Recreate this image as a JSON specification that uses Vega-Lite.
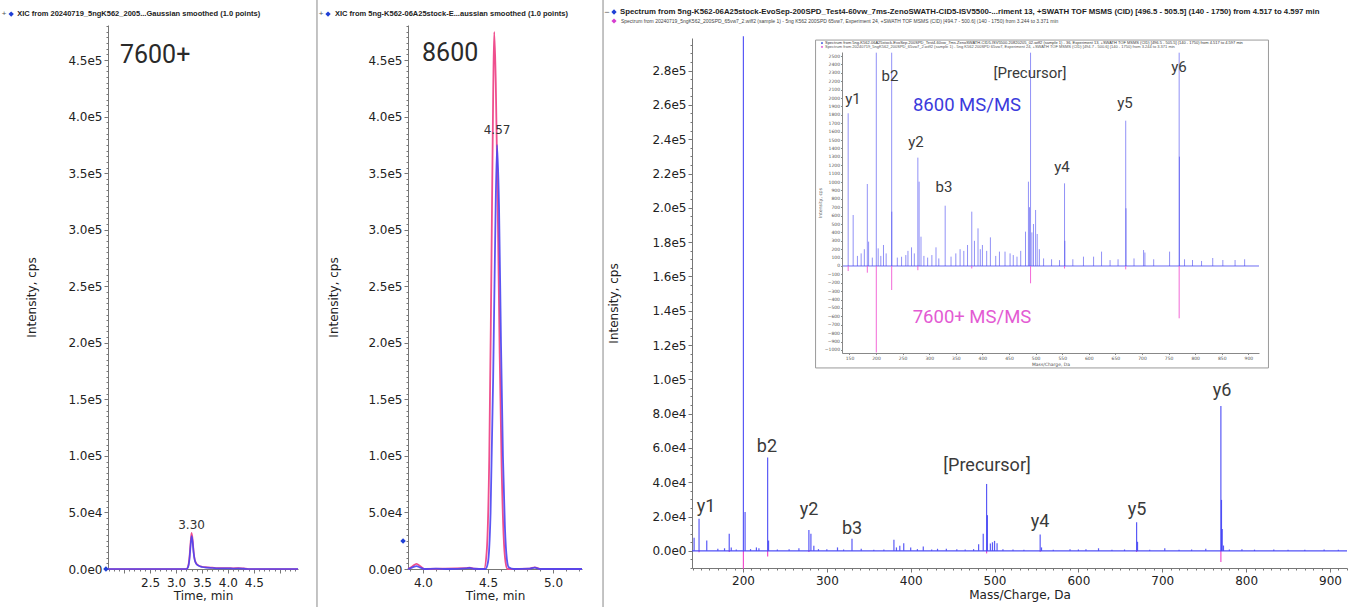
{
  "$schema": "https://vega.github.io/schema/vega-lite/v6.json",
  "width": 1371,
  "height": 607,
  "padding": 0,
  "autosize": {"type": "none"},
  "background": "white",
  "config": {
    "view": {"stroke": null},
    "axis": {
      "grid": false,
      "domainColor": "#777",
      "tickColor": "#777",
      "labelColor": "#222",
      "labelFont": "DejaVu Sans",
      "labelFontSize": 12,
      "titleFont": "DejaVu Sans",
      "titleFontSize": 12,
      "titleFontWeight": "normal",
      "titleColor": "#222",
      "labelPadding": 2,
      "labelOverlap": false,
      "labelFlush": false
    }
  },
  "datasets": {
    "xic7600": [
      {"time": 1.69, "trace": "XIC 1", "intensity": 0},
      {"time": 3.2, "trace": "XIC 1", "intensity": 0},
      {"time": 3.23, "trace": "XIC 1", "intensity": 1500},
      {"time": 3.26, "trace": "XIC 1", "intensity": 9000},
      {"time": 3.28, "trace": "XIC 1", "intensity": 20000},
      {"time": 3.3, "trace": "XIC 1", "intensity": 29000},
      {"time": 3.32, "trace": "XIC 1", "intensity": 24000},
      {"time": 3.34, "trace": "XIC 1", "intensity": 14000},
      {"time": 3.36, "trace": "XIC 1", "intensity": 8000},
      {"time": 3.39, "trace": "XIC 1", "intensity": 4500},
      {"time": 3.43, "trace": "XIC 1", "intensity": 3000},
      {"time": 3.5, "trace": "XIC 1", "intensity": 1800},
      {"time": 3.6, "trace": "XIC 1", "intensity": 1200},
      {"time": 3.7, "trace": "XIC 1", "intensity": 900},
      {"time": 3.8, "trace": "XIC 1", "intensity": 600},
      {"time": 3.9, "trace": "XIC 1", "intensity": 500},
      {"time": 4.0, "trace": "XIC 1", "intensity": 600},
      {"time": 4.1, "trace": "XIC 1", "intensity": 400},
      {"time": 4.2, "trace": "XIC 1", "intensity": 500},
      {"time": 4.3, "trace": "XIC 1", "intensity": 300},
      {"time": 4.4, "trace": "XIC 1", "intensity": 0},
      {"time": 5.35, "trace": "XIC 1", "intensity": 0},
      {"time": 1.69, "trace": "XIC 2", "intensity": 0},
      {"time": 3.2, "trace": "XIC 2", "intensity": 0},
      {"time": 3.23, "trace": "XIC 2", "intensity": 1800},
      {"time": 3.26, "trace": "XIC 2", "intensity": 11000},
      {"time": 3.28, "trace": "XIC 2", "intensity": 23000},
      {"time": 3.3, "trace": "XIC 2", "intensity": 32000},
      {"time": 3.32, "trace": "XIC 2", "intensity": 26000},
      {"time": 3.34, "trace": "XIC 2", "intensity": 15000},
      {"time": 3.36, "trace": "XIC 2", "intensity": 8500},
      {"time": 3.39, "trace": "XIC 2", "intensity": 5000},
      {"time": 3.43, "trace": "XIC 2", "intensity": 3200},
      {"time": 3.5, "trace": "XIC 2", "intensity": 2000},
      {"time": 3.6, "trace": "XIC 2", "intensity": 1500},
      {"time": 3.7, "trace": "XIC 2", "intensity": 1200},
      {"time": 3.8, "trace": "XIC 2", "intensity": 900},
      {"time": 3.9, "trace": "XIC 2", "intensity": 700},
      {"time": 4.0, "trace": "XIC 2", "intensity": 900},
      {"time": 4.1, "trace": "XIC 2", "intensity": 600},
      {"time": 4.2, "trace": "XIC 2", "intensity": 800},
      {"time": 4.3, "trace": "XIC 2", "intensity": 500},
      {"time": 4.4, "trace": "XIC 2", "intensity": 0},
      {"time": 5.35, "trace": "XIC 2", "intensity": 0}
    ],
    "xic8600": [
      {"time": 3.885, "trace": "XIC 1", "intensity": 0},
      {"time": 3.92, "trace": "XIC 1", "intensity": 1500},
      {"time": 3.95, "trace": "XIC 1", "intensity": 2500},
      {"time": 3.98, "trace": "XIC 1", "intensity": 1200},
      {"time": 4.01, "trace": "XIC 1", "intensity": 0},
      {"time": 4.1, "trace": "XIC 1", "intensity": 300},
      {"time": 4.2, "trace": "XIC 1", "intensity": 0},
      {"time": 4.33, "trace": "XIC 1", "intensity": 500},
      {"time": 4.36, "trace": "XIC 1", "intensity": 900},
      {"time": 4.39, "trace": "XIC 1", "intensity": 200},
      {"time": 4.48, "trace": "XIC 1", "intensity": 0},
      {"time": 4.5, "trace": "XIC 1", "intensity": 6000},
      {"time": 4.52, "trace": "XIC 1", "intensity": 50000},
      {"time": 4.54, "trace": "XIC 1", "intensity": 170000},
      {"time": 4.555, "trace": "XIC 1", "intensity": 290000},
      {"time": 4.57, "trace": "XIC 1", "intensity": 375000},
      {"time": 4.585, "trace": "XIC 1", "intensity": 320000},
      {"time": 4.6, "trace": "XIC 1", "intensity": 200000},
      {"time": 4.615, "trace": "XIC 1", "intensity": 100000},
      {"time": 4.63, "trace": "XIC 1", "intensity": 38000},
      {"time": 4.645, "trace": "XIC 1", "intensity": 9000},
      {"time": 4.66, "trace": "XIC 1", "intensity": 1500},
      {"time": 4.7, "trace": "XIC 1", "intensity": 0},
      {"time": 4.82, "trace": "XIC 1", "intensity": 300},
      {"time": 4.86, "trace": "XIC 1", "intensity": 1200},
      {"time": 4.9, "trace": "XIC 1", "intensity": 0},
      {"time": 5.223, "trace": "XIC 1", "intensity": 0},
      {"time": 3.885, "trace": "XIC 2", "intensity": 0},
      {"time": 3.92, "trace": "XIC 2", "intensity": 2500},
      {"time": 3.95, "trace": "XIC 2", "intensity": 4500},
      {"time": 3.98, "trace": "XIC 2", "intensity": 2500},
      {"time": 4.01, "trace": "XIC 2", "intensity": 0},
      {"time": 4.33, "trace": "XIC 2", "intensity": 700},
      {"time": 4.36, "trace": "XIC 2", "intensity": 1200},
      {"time": 4.39, "trace": "XIC 2", "intensity": 300},
      {"time": 4.47, "trace": "XIC 2", "intensity": 0},
      {"time": 4.49, "trace": "XIC 2", "intensity": 15000},
      {"time": 4.51, "trace": "XIC 2", "intensity": 100000},
      {"time": 4.525, "trace": "XIC 2", "intensity": 250000},
      {"time": 4.54, "trace": "XIC 2", "intensity": 420000},
      {"time": 4.548, "trace": "XIC 2", "intensity": 475000},
      {"time": 4.56, "trace": "XIC 2", "intensity": 430000},
      {"time": 4.575, "trace": "XIC 2", "intensity": 320000},
      {"time": 4.59, "trace": "XIC 2", "intensity": 190000},
      {"time": 4.605, "trace": "XIC 2", "intensity": 90000},
      {"time": 4.62, "trace": "XIC 2", "intensity": 30000},
      {"time": 4.635, "trace": "XIC 2", "intensity": 6000},
      {"time": 4.65, "trace": "XIC 2", "intensity": 0},
      {"time": 4.82, "trace": "XIC 2", "intensity": 400},
      {"time": 4.86, "trace": "XIC 2", "intensity": 1500},
      {"time": 4.9, "trace": "XIC 2", "intensity": 0},
      {"time": 5.223, "trace": "XIC 2", "intensity": 0}
    ],
    "spec8600": [
      {"mz": 141.7, "intensity": 7600}, {"mz": 147.6, "intensity": 18700}, {"mz": 156.8, "intensity": 6000},
      {"mz": 170, "intensity": 1200}, {"mz": 178, "intensity": 1500}, {"mz": 183.6, "intensity": 9900},
      {"mz": 186, "intensity": 2000}, {"mz": 192, "intensity": 800}, {"mz": 200.5, "intensity": 300000},
      {"mz": 202.5, "intensity": 22700}, {"mz": 209, "intensity": 1000}, {"mz": 216, "intensity": 2000},
      {"mz": 219, "intensity": 1500}, {"mz": 229.4, "intensity": 54400}, {"mz": 230.5, "intensity": 6000},
      {"mz": 241, "intensity": 800}, {"mz": 255, "intensity": 900}, {"mz": 266.7, "intensity": 1500},
      {"mz": 278.6, "intensity": 12200}, {"mz": 281, "intensity": 9900}, {"mz": 284.5, "intensity": 3000},
      {"mz": 290, "intensity": 1000}, {"mz": 300, "intensity": 900}, {"mz": 312.7, "intensity": 2000},
      {"mz": 320, "intensity": 800}, {"mz": 330, "intensity": 7000}, {"mz": 341, "intensity": 1200},
      {"mz": 356, "intensity": 700}, {"mz": 368, "intensity": 800}, {"mz": 380, "intensity": 6400},
      {"mz": 383, "intensity": 2000}, {"mz": 387, "intensity": 3000}, {"mz": 391.7, "intensity": 4500},
      {"mz": 400, "intensity": 2000}, {"mz": 408, "intensity": 1000}, {"mz": 415, "intensity": 2500},
      {"mz": 425, "intensity": 800}, {"mz": 432, "intensity": 1200}, {"mz": 442.5, "intensity": 1200},
      {"mz": 455, "intensity": 900}, {"mz": 465, "intensity": 800}, {"mz": 475, "intensity": 1000},
      {"mz": 481, "intensity": 3800}, {"mz": 486.5, "intensity": 10000}, {"mz": 490.5, "intensity": 39000},
      {"mz": 491.5, "intensity": 20800}, {"mz": 495, "intensity": 4300}, {"mz": 497.5, "intensity": 5000},
      {"mz": 500, "intensity": 5800}, {"mz": 503, "intensity": 4500}, {"mz": 510, "intensity": 1000},
      {"mz": 522, "intensity": 800}, {"mz": 535, "intensity": 700}, {"mz": 554.4, "intensity": 9500},
      {"mz": 556, "intensity": 2000}, {"mz": 570, "intensity": 700}, {"mz": 590, "intensity": 1000},
      {"mz": 600, "intensity": 800}, {"mz": 609, "intensity": 1000}, {"mz": 624, "intensity": 1500},
      {"mz": 640, "intensity": 700}, {"mz": 655, "intensity": 800}, {"mz": 669.4, "intensity": 16700},
      {"mz": 670.5, "intensity": 5300}, {"mz": 685, "intensity": 700}, {"mz": 703, "intensity": 1500},
      {"mz": 720, "intensity": 700}, {"mz": 735, "intensity": 800}, {"mz": 751.9, "intensity": 1200},
      {"mz": 769.9, "intensity": 84500}, {"mz": 770.6, "intensity": 29700}, {"mz": 771.5, "intensity": 12800},
      {"mz": 773, "intensity": 3100}, {"mz": 780, "intensity": 800}, {"mz": 795, "intensity": 1000},
      {"mz": 810, "intensity": 700}, {"mz": 833, "intensity": 800}, {"mz": 850, "intensity": 700},
      {"mz": 870, "intensity": 600}, {"mz": 893, "intensity": 800}, {"mz": 910, "intensity": 600}
    ],
    "spec7600": [
      {"mz": 147.6, "intensity": -800}, {"mz": 183.6, "intensity": -600}, {"mz": 200.5, "intensity": -10500},
      {"mz": 229.4, "intensity": -3300}, {"mz": 278.6, "intensity": -700}, {"mz": 490.5, "intensity": -1500},
      {"mz": 554.4, "intensity": -500}, {"mz": 669.4, "intensity": -600}, {"mz": 769.9, "intensity": -6500}
    ],
    "ions": [
      {"ion": "y1", "mz": 155.9, "intensity": 25563},
      {"ion": "b2", "mz": 228.6, "intensity": 60543},
      {"ion": "y2", "mz": 278.7, "intensity": 23814},
      {"ion": "b3", "mz": 330.0, "intensity": 12737},
      {"ion": "[Precursor]", "mz": 491.0, "intensity": 49466},
      {"ion": "y4", "mz": 554.2, "intensity": 16818},
      {"ion": "y5", "mz": 669.9, "intensity": 23814},
      {"ion": "y6", "mz": 771.2, "intensity": 93191}
    ],
    "inset8600": [
      {"mz": 147.6, "intensity": 1818}, {"mz": 157, "intensity": 607}, {"mz": 165, "intensity": 120},
      {"mz": 172, "intensity": 150}, {"mz": 178, "intensity": 200}, {"mz": 183.6, "intensity": 976},
      {"mz": 186, "intensity": 290}, {"mz": 193, "intensity": 100}, {"mz": 200.5, "intensity": 2540},
      {"mz": 204, "intensity": 210}, {"mz": 209, "intensity": 120}, {"mz": 214, "intensity": 250},
      {"mz": 219, "intensity": 150}, {"mz": 229.4, "intensity": 2540}, {"mz": 229.6, "intensity": 647},
      {"mz": 240, "intensity": 100}, {"mz": 248, "intensity": 110}, {"mz": 256, "intensity": 130},
      {"mz": 260, "intensity": 180}, {"mz": 266.7, "intensity": 222}, {"mz": 272, "intensity": 150},
      {"mz": 278.6, "intensity": 1290}, {"mz": 281, "intensity": 1004}, {"mz": 284.5, "intensity": 349},
      {"mz": 290, "intensity": 120}, {"mz": 297, "intensity": 100}, {"mz": 305, "intensity": 130},
      {"mz": 312.7, "intensity": 222}, {"mz": 318, "intensity": 90}, {"mz": 330, "intensity": 718},
      {"mz": 341, "intensity": 111}, {"mz": 350, "intensity": 150}, {"mz": 358, "intensity": 200},
      {"mz": 365, "intensity": 180}, {"mz": 372, "intensity": 250}, {"mz": 380, "intensity": 647},
      {"mz": 385, "intensity": 300}, {"mz": 391.7, "intensity": 448}, {"mz": 396, "intensity": 200},
      {"mz": 400, "intensity": 250}, {"mz": 408, "intensity": 180}, {"mz": 415, "intensity": 341},
      {"mz": 425, "intensity": 120}, {"mz": 432, "intensity": 171}, {"mz": 442.5, "intensity": 171},
      {"mz": 452, "intensity": 150}, {"mz": 458, "intensity": 130}, {"mz": 465, "intensity": 111},
      {"mz": 472, "intensity": 180}, {"mz": 481, "intensity": 409}, {"mz": 486.5, "intensity": 1004},
      {"mz": 488.5, "intensity": 700}, {"mz": 490.5, "intensity": 2540}, {"mz": 493, "intensity": 400},
      {"mz": 496, "intensity": 500}, {"mz": 500, "intensity": 667}, {"mz": 503, "intensity": 381},
      {"mz": 507, "intensity": 200}, {"mz": 515, "intensity": 90}, {"mz": 530, "intensity": 80},
      {"mz": 545, "intensity": 70}, {"mz": 554.4, "intensity": 984}, {"mz": 555, "intensity": 300},
      {"mz": 570, "intensity": 80}, {"mz": 590, "intensity": 111}, {"mz": 609, "intensity": 111},
      {"mz": 624, "intensity": 171}, {"mz": 640, "intensity": 70}, {"mz": 655, "intensity": 80},
      {"mz": 669.4, "intensity": 1730}, {"mz": 670, "intensity": 687}, {"mz": 685, "intensity": 90},
      {"mz": 703, "intensity": 190}, {"mz": 705.5, "intensity": 160}, {"mz": 722, "intensity": 80},
      {"mz": 751.9, "intensity": 171}, {"mz": 769.9, "intensity": 2540}, {"mz": 770.4, "intensity": 1302},
      {"mz": 780, "intensity": 80}, {"mz": 795, "intensity": 71}, {"mz": 812, "intensity": 60},
      {"mz": 833, "intensity": 95}, {"mz": 852, "intensity": 71}, {"mz": 875, "intensity": 71},
      {"mz": 893, "intensity": 80}
    ],
    "inset7600": [
      {"mz": 147.6, "intensity": -60}, {"mz": 183.6, "intensity": -80}, {"mz": 200.5, "intensity": -1030},
      {"mz": 229.4, "intensity": -286}, {"mz": 278.6, "intensity": -50}, {"mz": 380, "intensity": -30},
      {"mz": 490.5, "intensity": -206}, {"mz": 554.4, "intensity": -30}, {"mz": 669.4, "intensity": -40},
      {"mz": 769.9, "intensity": -623}
    ],
    "insetIons": [
      {"ion": "y1", "mz": 156.7, "intensity": 1988},
      {"ion": "b2", "mz": 226.2, "intensity": 2262},
      {"ion": "[Precursor]", "mz": 489.4, "intensity": 2298},
      {"ion": "y6", "mz": 769.6, "intensity": 2370},
      {"ion": "y5", "mz": 668, "intensity": 1941},
      {"ion": "y2", "mz": 275.1, "intensity": 1476},
      {"ion": "y4", "mz": 549.6, "intensity": 1179},
      {"ion": "b3", "mz": 327.8, "intensity": 941}
    ]
  },
  "layer": [
    {
      "data": {"name": "xic7600"},
      "layer": [
        {
          "transform": [{"filter": "datum.trace === 'XIC 2'"}],
          "mark": {"type": "line", "color": "#ef4f8e", "strokeWidth": 1.7, "interpolate": "monotone"},
          "encoding": {
            "x": {
              "field": "time", "type": "quantitative",
              "scale": {"domain": [1.69, 5.35], "range": [108, 298], "nice": false, "zero": false},
              "axis": {
                "orient": "bottom", "offset": -38, "tickCount": 37,
                "labelExpr": "(datum.value > 2.45 && datum.value < 4.55 && abs(datum.value * 2 - round(datum.value * 2)) < 0.01) ? format(datum.value, '.1f') : ''",
                "tickSize": {"condition": {"test": "abs(datum.value * 2 - round(datum.value * 2)) < 0.01", "value": 4}, "value": 2},
                "labelPadding": 4, "title": "Time, min", "titlePadding": 2
              }
            },
            "y": {
              "field": "intensity", "type": "quantitative",
              "scale": {"domain": [0, 481000], "range": [569, 25], "nice": false, "zero": false},
              "axis": {
                "orient": "left", "offset": -108, "tickCount": 100,
                "labelExpr": "datum.value % 50000 === 0 ? replace(format(datum.value, '.1e'), '+', '') : ''",
                "tickSize": {"condition": {"test": "datum.value % 50000 === 0", "value": 4}, "value": 2},
                "title": "Intensity, cps", "titleX": -77, "titleBaseline": "middle", "titleAngle": -90
              }
            }
          }
        },
        {
          "transform": [{"filter": "datum.trace === 'XIC 1'"}],
          "mark": {"type": "line", "color": "#4a44f2", "strokeWidth": 1.7, "interpolate": "monotone", "opacity": 0.9},
          "encoding": {
            "x": {"field": "time", "type": "quantitative"},
            "y": {"field": "intensity", "type": "quantitative"}
          }
        },
        {
          "data": {"values": [{}]},
          "mark": {"type": "text", "font": "DejaVu Sans", "fontSize": 12, "color": "#333", "baseline": "bottom", "dy": -1},
          "encoding": {"x": {"datum": 3.3}, "y": {"datum": 32000}, "text": {"value": "3.30"}}
        },
        {
          "data": {"values": [{}]},
          "mark": {"type": "text", "font": "Roboto", "fontSize": 25, "color": "#2a2a2a", "align": "left", "baseline": "middle"},
          "encoding": {"x": {"datum": 1.92}, "y": {"datum": 454500}, "text": {"value": "7600+"}}
        },
        {
          "data": {"values": [{}]},
          "mark": {"type": "point", "shape": "diamond", "filled": true, "size": 30, "color": "#1f3fd6", "opacity": 1},
          "encoding": {"x": {"datum": 1.65}, "y": {"datum": 0}}
        },
        {
          "data": {"values": [{}]},
          "mark": {"type": "text", "font": "Liberation Sans", "fontSize": 8, "color": "#555", "align": "center", "baseline": "middle"},
          "encoding": {"x": {"datum": -0.31}, "y": {"datum": 490700}, "text": {"value": "+"}}
        },
        {
          "data": {"values": [{}]},
          "mark": {"type": "point", "shape": "diamond", "filled": true, "size": 28, "color": "#1f3fd6", "opacity": 1},
          "encoding": {"x": {"datum": -0.175}, "y": {"datum": 490700}}
        },
        {
          "data": {"values": [{}]},
          "mark": {"type": "text", "font": "Liberation Sans", "fontSize": 7.5, "fontWeight": "bold", "color": "#222", "align": "left", "baseline": "middle"},
          "encoding": {"x": {"datum": -0.06}, "y": {"datum": 490700}, "text": {"value": "XIC from 20240719_5ngK562_2005...Gaussian smoothed (1.0 points)"}}
        }
      ]
    },
    {
      "data": {"name": "xic8600"},
      "layer": [
        {
          "transform": [{"filter": "datum.trace === 'XIC 2'"}],
          "mark": {"type": "line", "color": "#ef4f8e", "strokeWidth": 1.8, "interpolate": "monotone"},
          "encoding": {
            "x": {
              "field": "time", "type": "quantitative",
              "scale": {"domain": [3.885, 5.223], "range": [408, 582], "nice": false, "zero": false},
              "axis": {
                "orient": "bottom", "offset": -38, "tickCount": 13,
                "labelExpr": "abs(datum.value * 2 - round(datum.value * 2)) < 0.01 ? format(datum.value, '.1f') : ''",
                "tickSize": {"condition": {"test": "abs(datum.value * 2 - round(datum.value * 2)) < 0.01", "value": 4}, "value": 2},
                "labelPadding": 4, "title": "Time, min", "titlePadding": 2
              }
            },
            "y": {
              "field": "intensity", "type": "quantitative",
              "scale": {"domain": [0, 481000], "range": [569, 25], "nice": false, "zero": false},
              "axis": {
                "orient": "left", "offset": -408, "tickCount": 100,
                "labelExpr": "datum.value % 50000 === 0 ? replace(format(datum.value, '.1e'), '+', '') : ''",
                "tickSize": {"condition": {"test": "datum.value % 50000 === 0", "value": 4}, "value": 2},
                "title": "Intensity, cps", "titleX": -75, "titleBaseline": "middle", "titleAngle": -90
              }
            }
          }
        },
        {
          "transform": [{"filter": "datum.trace === 'XIC 1'"}],
          "mark": {"type": "line", "color": "#4a44f2", "strokeWidth": 1.8, "interpolate": "monotone", "opacity": 0.9},
          "encoding": {
            "x": {"field": "time", "type": "quantitative"},
            "y": {"field": "intensity", "type": "quantitative"}
          }
        },
        {
          "data": {"values": [{}]},
          "mark": {"type": "text", "font": "DejaVu Sans", "fontSize": 12, "color": "#333", "baseline": "bottom", "dy": -8},
          "encoding": {"x": {"datum": 4.57}, "y": {"datum": 375000}, "text": {"value": "4.57"}}
        },
        {
          "data": {"values": [{}]},
          "mark": {"type": "text", "font": "Roboto", "fontSize": 25, "color": "#2a2a2a", "align": "left", "baseline": "middle"},
          "encoding": {"x": {"datum": 3.993}, "y": {"datum": 456200}, "text": {"value": "8600"}}
        },
        {
          "data": {"values": [{}]},
          "mark": {"type": "point", "shape": "diamond", "filled": true, "size": 30, "color": "#1f3fd6", "opacity": 1},
          "encoding": {"x": {"datum": 3.847}, "y": {"datum": 24760}}
        },
        {
          "data": {"values": [{}]},
          "mark": {"type": "rule", "color": "#b0b0b0", "strokeWidth": 1.5},
          "encoding": {"x": {"datum": 3.185}}
        },
        {
          "data": {"values": [{}]},
          "mark": {"type": "text", "font": "Liberation Sans", "fontSize": 8, "color": "#555", "align": "center", "baseline": "middle"},
          "encoding": {"x": {"datum": 3.216}, "y": {"datum": 490700}, "text": {"value": "+"}}
        },
        {
          "data": {"values": [{}]},
          "mark": {"type": "point", "shape": "diamond", "filled": true, "size": 28, "color": "#1f3fd6", "opacity": 1},
          "encoding": {"x": {"datum": 3.27}, "y": {"datum": 490700}}
        },
        {
          "data": {"values": [{}]},
          "mark": {"type": "text", "font": "Liberation Sans", "fontSize": 7.5, "fontWeight": "bold", "color": "#222", "align": "left", "baseline": "middle"},
          "encoding": {"x": {"datum": 3.323}, "y": {"datum": 490700}, "text": {"value": "XIC from 5ng-K562-06A25stock-E...aussian smoothed (1.0 points)"}}
        }
      ]
    },
    {
      "layer": [
        {
          "data": {"name": "spec8600"},
          "mark": {"type": "rule", "color": "#3d3df5", "strokeWidth": 1.2, "opacity": 0.85},
          "encoding": {
            "x": {
              "field": "mz", "type": "quantitative",
              "scale": {"domain": [139.2, 920.3], "range": [692, 1347], "nice": false, "zero": false},
              "axis": {
                "orient": "bottom", "offset": -39, "tickCount": 78,
                "labelExpr": "datum.value % 100 === 0 ? format(datum.value, 'd') : ''",
                "tickSize": {"condition": {"test": "datum.value % 100 === 0", "value": 4}, "value": 2},
                "labelPadding": 3, "title": "Mass/Charge, Da", "titlePadding": 3
              }
            },
            "y": {
              "field": "intensity", "type": "quantitative",
              "scale": {"domain": [-10000, 299000], "range": [568, 38], "nice": false, "zero": false},
              "axis": {
                "orient": "left", "offset": -692, "tickCount": 62,
                "labelExpr": "(datum.value >= 0 && datum.value % 20000 === 0) ? replace(format(datum.value, '.1e'), '+', '') : ''",
                "tickSize": {"condition": {"test": "datum.value % 20000 === 0", "value": 4}, "value": 2},
                "labelPadding": 2,
                "title": "Intensity, cps", "titleX": -79, "titleBaseline": "middle", "titleAngle": -90
              }
            },
            "y2": {"datum": 0}
          }
        },
        {
          "data": {"name": "spec7600"},
          "mark": {"type": "rule", "color": "#f03cc8", "strokeWidth": 1.2, "opacity": 0.9},
          "encoding": {
            "x": {"field": "mz", "type": "quantitative"},
            "y": {"field": "intensity", "type": "quantitative"},
            "y2": {"datum": 0}
          }
        },
        {
          "data": {"values": [{}]},
          "mark": {"type": "rule", "color": "#3d3df5", "strokeWidth": 1.4, "opacity": 0.9},
          "encoding": {"x": {"datum": 139.2}, "x2": {"datum": 920.3}, "y": {"datum": 0}}
        },
        {
          "data": {"name": "ions"},
          "mark": {"type": "text", "font": "Roboto", "fontSize": 18, "color": "#3a3a3a", "align": "center", "baseline": "middle"},
          "encoding": {
            "x": {"field": "mz", "type": "quantitative"},
            "y": {"field": "intensity", "type": "quantitative"},
            "text": {"field": "ion"}
          }
        },
        {
          "data": {"values": [{}]},
          "mark": {"type": "rule", "color": "#b0b0b0", "strokeWidth": 1.5},
          "encoding": {"x": {"datum": 33.1}}
        },
        {
          "data": {"values": [{}]},
          "mark": {"type": "text", "font": "Liberation Sans", "fontSize": 9, "color": "#555", "align": "center", "baseline": "middle"},
          "encoding": {"x": {"datum": 37.8}, "y": {"datum": 314150}, "text": {"value": "−"}}
        },
        {
          "data": {"values": [{}]},
          "mark": {"type": "point", "shape": "diamond", "filled": true, "size": 28, "color": "#1f3fd6", "opacity": 1},
          "encoding": {"x": {"datum": 46.2}, "y": {"datum": 314150}}
        },
        {
          "data": {"values": [{}]},
          "mark": {"type": "point", "shape": "diamond", "filled": true, "size": 26, "color": "#d63ccf", "opacity": 1},
          "encoding": {"x": {"datum": 46.2}, "y": {"datum": 308900}}
        },
        {
          "data": {"values": [{}]},
          "mark": {"type": "text", "font": "Liberation Sans", "fontSize": 7.8, "fontWeight": "bold", "color": "#222", "align": "left", "baseline": "middle"},
          "encoding": {"x": {"datum": 53.3}, "y": {"datum": 314150}, "text": {"value": "Spectrum from 5ng-K562-06A25stock-EvoSep-200SPD_Test4-60vw_7ms-ZenoSWATH-CID5-ISV5500-...riment 13, +SWATH TOF MSMS (CID) [496.5 - 505.5] (140 - 1750) from 4.517 to 4.597 min"}}
        },
        {
          "data": {"values": [{}]},
          "mark": {"type": "text", "font": "Liberation Sans", "fontSize": 5, "color": "#444", "align": "left", "baseline": "middle"},
          "encoding": {"x": {"datum": 54.5}, "y": {"datum": 308900}, "text": {"value": "Spectrum from 20240719_5ngK562_200SPD_65vw7_2.wiff2 (sample 1) - 5ng K562 200SPD 65vw7, Experiment 24, +SWATH TOF MSMS (CID) [494.7 - 500.6] (140 - 1750) from 3.244 to 3.371 min"}}
        }
      ]
    },
    {
      "layer": [
        {
          "data": {"values": [{}]},
          "mark": {"type": "rect", "fill": "white", "stroke": "#9a9a9a", "strokeWidth": 1},
          "encoding": {
            "x": {
              "datum": 86.3, "type": "quantitative",
              "scale": {"domain": [136, 920], "range": [842, 1259], "nice": false, "zero": false},
              "axis": {
                "orient": "bottom", "offset": -254, "tickCount": 16, "format": "d",
                "labelFontSize": 4.5, "labelPadding": 1, "tickSize": 1.5, "labelColor": "#555",
                "domainColor": "#888", "tickColor": "#888",
                "title": "Mass/Charge, Da", "titleFontSize": 4.5, "titlePadding": 1, "titleColor": "#555",
                "zindex": 1
              }
            },
            "x2": {"datum": 937.8},
            "y": {
              "datum": 2690, "type": "quantitative",
              "scale": {"domain": [-1036, 2548], "range": [353, 52], "nice": false, "zero": false},
              "axis": {
                "orient": "left", "offset": -842, "tickCount": 36, "format": "d",
                "labelFontSize": 4.5, "labelPadding": 1, "tickSize": 1.5, "labelColor": "#555",
                "domainColor": "#888", "tickColor": "#888",
                "title": "Intensity, cps", "titleFontSize": 4.5, "titleX": -22, "titleBaseline": "middle", "titleAngle": -90, "titleColor": "#555",
                "zindex": 1
              }
            },
            "y2": {"datum": -1214}
          }
        },
        {
          "data": {"values": [{}]},
          "mark": {"type": "rule", "color": "#4848f0", "strokeWidth": 1, "opacity": 0.8},
          "encoding": {"x": {"datum": 136}, "x2": {"datum": 920}, "y": {"datum": 0}}
        },
        {
          "data": {"name": "inset8600"},
          "mark": {"type": "rule", "color": "#4848f0", "strokeWidth": 1, "opacity": 0.6},
          "encoding": {
            "x": {"field": "mz", "type": "quantitative"},
            "y": {"field": "intensity", "type": "quantitative"},
            "y2": {"datum": 0}
          }
        },
        {
          "data": {"name": "inset7600"},
          "mark": {"type": "rule", "color": "#f050d0", "strokeWidth": 1, "opacity": 0.85},
          "encoding": {
            "x": {"field": "mz", "type": "quantitative"},
            "y": {"field": "intensity", "type": "quantitative"},
            "y2": {"datum": 0}
          }
        },
        {
          "data": {"name": "insetIons"},
          "mark": {"type": "text", "font": "Roboto", "fontSize": 15, "color": "#3a3a3a", "align": "center", "baseline": "middle"},
          "encoding": {
            "x": {"field": "mz", "type": "quantitative"},
            "y": {"field": "intensity", "type": "quantitative"},
            "text": {"field": "ion"}
          }
        },
        {
          "data": {"values": [{}]},
          "mark": {"type": "text", "font": "Roboto", "fontSize": 18.5, "color": "#3b3bdc", "align": "center", "baseline": "middle"},
          "encoding": {"x": {"datum": 371}, "y": {"datum": 1917}, "text": {"value": "8600 MS/MS"}}
        },
        {
          "data": {"values": [{}]},
          "mark": {"type": "text", "font": "Roboto", "fontSize": 18.5, "color": "#e35bd3", "align": "center", "baseline": "middle"},
          "encoding": {"x": {"datum": 380.4}, "y": {"datum": -607}, "text": {"value": "7600+ MS/MS"}}
        },
        {
          "data": {"values": [{}]},
          "mark": {"type": "point", "shape": "diamond", "filled": true, "size": 5, "color": "#1f3fd6", "opacity": 1},
          "encoding": {"x": {"datum": 98.4}, "y": {"datum": 2655}}
        },
        {
          "data": {"values": [{}]},
          "mark": {"type": "point", "shape": "diamond", "filled": true, "size": 5, "color": "#d63ccf", "opacity": 1},
          "encoding": {"x": {"datum": 98.4}, "y": {"datum": 2608}}
        },
        {
          "data": {"values": [{}]},
          "mark": {"type": "text", "font": "Liberation Sans", "fontSize": 4, "color": "#333", "align": "left", "baseline": "middle"},
          "encoding": {"x": {"datum": 104}, "y": {"datum": 2655}, "text": {"value": "Spectrum from 5ng-K562-06A25stock-EvoSep-200SPD_Test4-60vw_7ms-ZenoSWATH-CID5-ISV5500-20820205_02.wiff2 (sample 1) - 36, Experiment 13, +SWATH TOF MSMS (CID) [496.5 - 505.5] (140 - 1750) from 4.517 to 4.597 min"}}
        },
        {
          "data": {"values": [{}]},
          "mark": {"type": "text", "font": "Liberation Sans", "fontSize": 4, "color": "#555", "align": "left", "baseline": "middle"},
          "encoding": {"x": {"datum": 104}, "y": {"datum": 2608}, "text": {"value": "Spectrum from 20240719_5ngK562_200SPD_65vw7_2.wiff2 (sample 1) - 5ng K562 200SPD 65vw7, Experiment 24, +SWATH TOF MSMS (CID) [494.7 - 500.6] (140 - 1750) from 3.244 to 3.371 min"}}
        }
      ]
    }
  ],
  "resolve": {
    "scale": {"x": "independent", "y": "independent"},
    "axis": {"x": "independent", "y": "independent"}
  }
}
